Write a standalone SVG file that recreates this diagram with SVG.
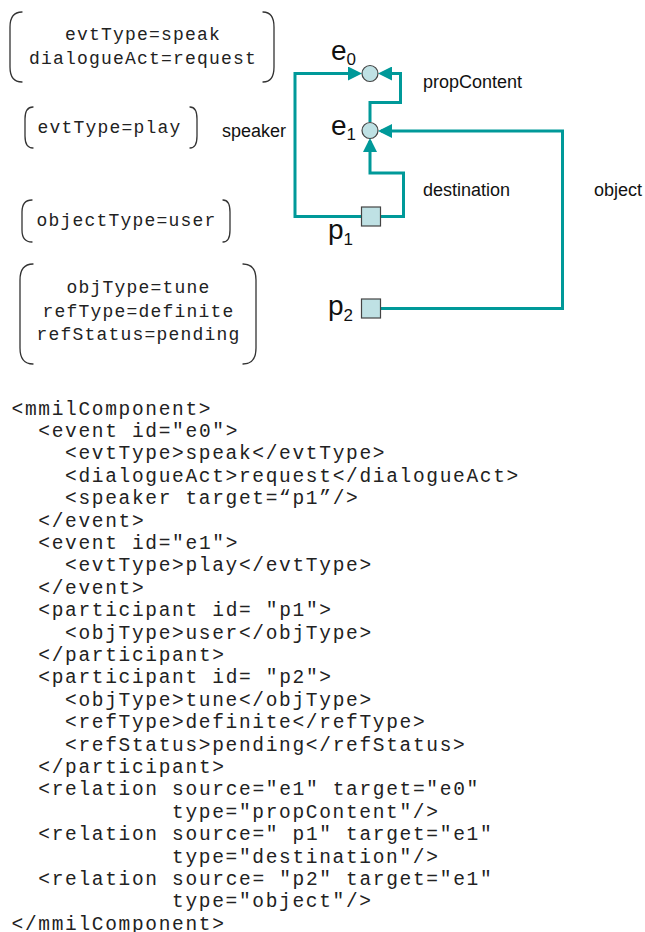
<svg xmlns="http://www.w3.org/2000/svg" width="645" height="932" viewBox="0 0 645 932">
<style>
.br{fill:none;stroke:#333;stroke-width:1.3;stroke-linecap:round}
.fs{font-family:"Liberation Mono","Courier New",monospace;font-size:18px;letter-spacing:1.2px;fill:#222;text-anchor:middle}
.code{font-family:"Liberation Mono","Courier New",monospace;font-size:19.5px;letter-spacing:1.68px;fill:#222}
.lbl{font-family:"Liberation Sans",Arial,sans-serif;font-size:18px;fill:#111}
.nl{font-family:"Liberation Sans",Arial,sans-serif;font-size:28px;fill:#111}
.sub{font-size:17px}
.con{fill:none;stroke:#009999;stroke-width:3;marker-end:url(#ah)}
.ev{fill:#bfe1e4;stroke:#444;stroke-width:1.2}
</style>
<defs>
<marker id="ah" markerUnits="userSpaceOnUse" markerWidth="14" markerHeight="14" refX="11" refY="7" orient="auto">
<path d="M0,0 L14,7 L0,14 z" fill="#009999"/>
</marker>
</defs>
<rect width="645" height="932" fill="#fff"/>

<g id="fs-e0">
<path class="br" d="M22,12 Q10,12 10,27 V67 Q10,82 22,82"/>
<path class="br" d="M263,12 Q274,12 274,27 V67 Q274,82 263,82"/>
<text class="fs" x="143" y="40">evtType=speak</text>
<text class="fs" x="143" y="64">dialogueAct=request</text>
</g>
<g id="fs-e1">
<path class="br" d="M33,107 Q25,107 25,119 V136 Q25,148 33,148"/>
<path class="br" d="M190,107 Q197,107 197,119 V136 Q197,148 190,148"/>
<text class="fs" x="109.5" y="133">evtType=play</text>
</g>
<g id="fs-p1">
<path class="br" d="M32,200 Q22,200 22,212 V230 Q22,242 32,242"/>
<path class="br" d="M223,200 Q230,200 230,212 V230 Q230,242 223,242"/>
<text class="fs" x="126.5" y="226">objectType=user</text>
</g>
<g id="fs-p2">
<path class="br" d="M33,264 Q20,264 20,280 V348 Q20,364 33,364"/>
<path class="br" d="M243,264 Q256,264 256,280 V348 Q256,364 243,364"/>
<text class="fs" x="138.5" y="293">objType=tune</text>
<text class="fs" x="138.5" y="317">refType=definite</text>
<text class="fs" x="138.5" y="340">refStatus=pending</text>
</g>

<g id="connectors">
<path id="c-speaker" class="con" d="M361.5,216.5 H295 V73.5 H359"/>
<path id="c-propContent" class="con" d="M370,122 V102.5 H400.5 V73.5 H381"/>
<path id="c-destination" class="con" d="M380.5,216.5 H403.5 V173 H370 V141"/>
<path id="c-object" class="con" d="M380.5,308.5 H562.5 V131 H381"/>
<text class="lbl" x="222" y="137">speaker</text>
<text class="lbl" x="423" y="88">propContent</text>
<text class="lbl" x="423" y="196">destination</text>
<text class="lbl" x="594" y="196">object</text>
</g>

<g id="e0">
<circle class="ev" cx="370" cy="73.5" r="8"/>
<text class="nl" x="331" y="60">e<tspan class="sub" dy="5">0</tspan></text>
</g>
<g id="e1">
<circle class="ev" cx="370" cy="130.5" r="8"/>
<text class="nl" x="331" y="135">e<tspan class="sub" dy="5">1</tspan></text>
</g>
<g id="p1">
<rect class="ev" x="361.5" y="207" width="19" height="19"/>
<text class="nl" x="328" y="239">p<tspan class="sub" dy="6">1</tspan></text>
</g>
<g id="p2">
<rect class="ev" x="361.5" y="299" width="19" height="19"/>
<text class="nl" x="328" y="315">p<tspan class="sub" dy="6">2</tspan></text>
</g>

<g id="code" class="code">
<text x="11.5" y="414.5">&lt;mmilComponent&gt;</text>
<text x="38.3" y="436.9">&lt;event id="e0"&gt;</text>
<text x="65" y="459.3">&lt;evtType&gt;speak&lt;/evtType&gt;</text>
<text x="65" y="481.7">&lt;dialogueAct&gt;request&lt;/dialogueAct&gt;</text>
<text x="65" y="504.1">&lt;speaker target=“p1”/&gt;</text>
<text x="38.3" y="526.5">&lt;/event&gt;</text>
<text x="38.3" y="548.9">&lt;event id="e1"&gt;</text>
<text x="65" y="571.3">&lt;evtType&gt;play&lt;/evtType&gt;</text>
<text x="38.3" y="593.7">&lt;/event&gt;</text>
<text x="38.3" y="616.1">&lt;participant id= "p1"&gt;</text>
<text x="65" y="638.5">&lt;objType&gt;user&lt;/objType&gt;</text>
<text x="38.3" y="660.9">&lt;/participant&gt;</text>
<text x="38.3" y="683.3">&lt;participant id= "p2"&gt;</text>
<text x="65" y="705.7">&lt;objType&gt;tune&lt;/objType&gt;</text>
<text x="65" y="728.1">&lt;refType&gt;definite&lt;/refType&gt;</text>
<text x="65" y="750.5">&lt;refStatus&gt;pending&lt;/refStatus&gt;</text>
<text x="38.3" y="772.9">&lt;/participant&gt;</text>
<text x="38.3" y="795.3">&lt;relation source="e1" target="e0"</text>
<text x="172" y="817.7">type="propContent"/&gt;</text>
<text x="38.3" y="840.1">&lt;relation source=" p1" target="e1"</text>
<text x="172" y="862.5">type="destination"/&gt;</text>
<text x="38.3" y="884.9">&lt;relation source= "p2" target="e1"</text>
<text x="172" y="907.3">type="object"/&gt;</text>
<text x="11.5" y="929.5">&lt;/mmilComponent&gt;</text>
</g>
</svg>
